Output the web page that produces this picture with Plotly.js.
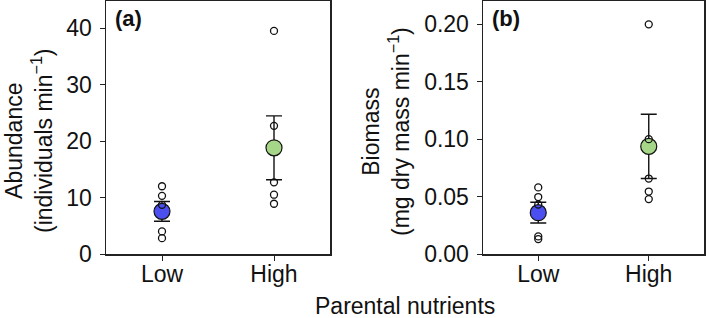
<!DOCTYPE html>
<html>
<head>
<meta charset="utf-8">
<script src="https://cdn.plot.ly/plotly-3.0.1.min.js"></script>
<style>html,body{margin:0;padding:0;background:#fff;}#chart{width:709px;height:318px;}</style>
</head>
<body>
<div id="chart"></div>
<script>
// ---- data ----
const groups = ["Low", "High"];
const groupPos = [0, 1];

const abundMean = [7.55, 18.8];
const abundSE = [1.75, 5.65];
const abundLow = [12.0, 10.3, 8.7, 4.0, 2.8];
const abundHigh = [39.5, 22.7, 12.7, 10.5, 8.9];

const bioMean = [0.036, 0.0937];
const bioSE = [0.009, 0.028];
const bioLow = [0.058, 0.0496, 0.043, 0.0153, 0.013];
const bioHigh = [0.200, 0.100, 0.0657, 0.0544, 0.0478];

const meanColors = ["#4b4ff0", "#a6d789"];

// ---- build traces ----
const FONT = "Liberation Sans, Arial, Helvetica, sans-serif";
function meanTrace(means, se, xa, ya) {
  return {
    type: "scatter", mode: "markers", x: groupPos, y: means, xaxis: xa, yaxis: ya,
    marker: { size: 16, color: meanColors, line: { color: "#111", width: 1.2 } },
    error_y: { type: "data", array: se, visible: true, color: "#111", thickness: 1.4, width: 8 },
    showlegend: false, hoverinfo: "skip"
  };
}
function pointTrace(lowVals, highVals, xa, ya) {
  const xs = lowVals.map(() => groupPos[0]).concat(highVals.map(() => groupPos[1]));
  return {
    type: "scatter", mode: "markers", x: xs, y: lowVals.concat(highVals), xaxis: xa, yaxis: ya,
    marker: { symbol: "circle-open", size: 7, color: "#111", line: { width: 1.3 } },
    showlegend: false, hoverinfo: "skip"
  };
}

const data = [
  meanTrace(abundMean, abundSE, "x", "y"),
  pointTrace(abundLow, abundHigh, "x", "y"),
  meanTrace(bioMean, bioSE, "x2", "y2"),
  pointTrace(bioLow, bioHigh, "x2", "y2")
];

const axisCommon = {
  showline: true, mirror: true, linecolor: "#222", linewidth: 1.5,
  showgrid: false, zeroline: false, ticks: "outside", ticklen: 5, tickwidth: 1, tickcolor: "#222",
  tickfont: { family: FONT, size: 23, color: "#111" }
};
const W = 709;
const layout = {
  width: 709, height: 318,
  margin: { l: 0, r: 0, t: 1, b: 64 },
  paper_bgcolor: "#fff", plot_bgcolor: "#fff",
  font: { family: FONT, size: 23, color: "#111" },
  xaxis: Object.assign({}, axisCommon, { domain: [106 / W, 330 / W], range: [-0.5, 1.5], tickvals: groupPos, ticktext: groups, anchor: "y", ticklabelstandoff: -6 }),
  yaxis: Object.assign({}, axisCommon, { domain: [0, 1], range: [0, 44.8], dtick: 10, tick0: 0, anchor: "x", ticklabelstandoff: 3 }),
  xaxis2: Object.assign({}, axisCommon, { domain: [483 / W, 704 / W], range: [-0.5, 1.5], tickvals: groupPos, ticktext: groups, anchor: "y2", ticklabelstandoff: -6 }),
  yaxis2: Object.assign({}, axisCommon, { domain: [0, 1], range: [0, 0.2203], dtick: 0.05, tick0: 0, tickformat: ".2f", anchor: "x2", ticklabelstandoff: 3 }),
  annotations: [
    { text: "<b>(a)</b>", xref: "x domain", yref: "y domain", x: 0.03, y: 0.93, xanchor: "left", yanchor: "middle", showarrow: false, font: { family: FONT, size: 22, color: "#111" } },
    { text: "<b>(b)</b>", xref: "x2 domain", yref: "y2 domain", x: 0.03, y: 0.93, xanchor: "left", yanchor: "middle", showarrow: false, font: { family: FONT, size: 22, color: "#111" } },
    { text: "Abundance<br>(individuals min<sup>−1</sup>)", xref: "paper", yref: "paper", x: 29 / W, y: (254 - 141) / 253, xanchor: "center", yanchor: "middle", textangle: -90, showarrow: false, font: { family: FONT, size: 23, color: "#111" } },
    { text: "Biomass<br>(mg dry mass min<sup>−1</sup>)", xref: "paper", yref: "paper", x: 386 / W, y: (254 - 132) / 253, xanchor: "center", yanchor: "middle", textangle: -90, showarrow: false, font: { family: FONT, size: 23, color: "#111" } },
    { text: "Parental nutrients", xref: "paper", yref: "paper", x: 405 / W, y: (254 - 306) / 253, xanchor: "center", yanchor: "middle", showarrow: false, font: { family: FONT, size: 23, color: "#111" } }
  ]
};

Plotly.newPlot("chart", data, layout, { staticPlot: true, displayModeBar: false });
</script>
</body>
</html>
